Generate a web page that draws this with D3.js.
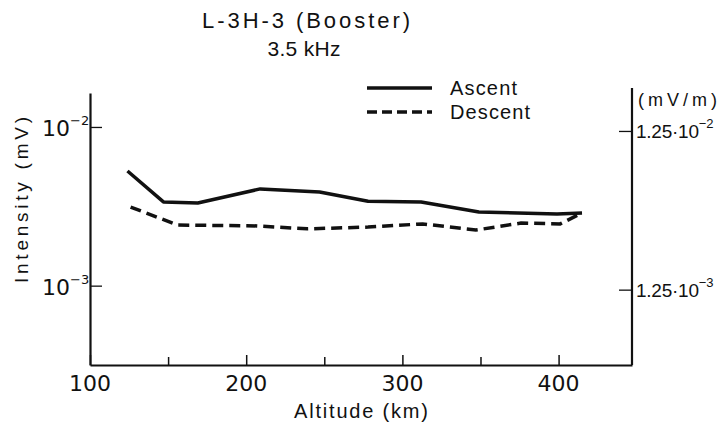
<!DOCTYPE html>
<html>
<head>
<meta charset="utf-8">
<script src="https://cdn.jsdelivr.net/npm/d3@7"></script>
<style>
  html, body { margin: 0; padding: 0; background: #fff; }
  svg { display: block; }
  text { font-family: "Liberation Sans", Arial, sans-serif; fill: #111; }
  text.num { font-family: "DejaVu Sans", sans-serif; }
</style>
</head>
<body>
<svg id="chart" width="726" height="434"></svg>
<script>
// ---- data ----
const ascentAlt = [124, 147, 169, 209, 247, 278, 312, 349, 399, 415];
const ascentMV  = [5.28e-3, 3.37e-3, 3.32e-3, 4.07e-3, 3.89e-3, 3.40e-3, 3.37e-3, 2.91e-3, 2.83e-3, 2.87e-3];
const descentAlt = [126, 156, 207, 239, 278, 313, 347, 376, 401, 415];
const descentMV  = [3.13e-3, 2.41e-3, 2.38e-3, 2.28e-3, 2.34e-3, 2.45e-3, 2.24e-3, 2.48e-3, 2.45e-3, 2.87e-3];
const xTicks = [100, 150, 200, 250, 300, 350, 400];
const xTickLabels = [100, 200, 300, 400];
const leftTicks = [1e-2, 1e-3];
const leftExps = ["−2", "−3"];
const rightTicks = [1.25e-2, 1.25e-3];
const rightExps = ["−2", "−3"];
const titleLines = ["L-3H-3 (Booster)", "3.5 kHz"];
const seriesNames = ["Ascent", "Descent"];

const svg = d3.select("#chart");
const x = d3.scaleLinear().domain([100, 447]).range([90, 632]);
const y = d3.scaleLog().domain([Math.pow(10, -3.5), Math.pow(10, -1.786)]).range([365, 93]);
const k = 1.3246;
const yR = d3.scaleLog().domain(y.domain().map(d => d * k)).range(y.range());

// axes
const gx = svg.append("g").attr("transform", "translate(0,365)")
  .call(d3.axisTop(x).tickValues(xTicks).tickSize(10).tickSizeOuter(0).tickFormat(""));
gx.selectAll(".tick line").attr("stroke", "#111").attr("stroke-width", 1.5)
  .attr("y2", d => d % 100 === 0 ? -10 : -8);
gx.select(".domain").attr("stroke", "#111").attr("stroke-width", 2.2);

const gl = svg.append("g").attr("transform", "translate(90,0)")
  .call(d3.axisRight(y).tickValues(leftTicks).tickSize(12).tickSizeOuter(0).tickFormat(""));
gl.selectAll(".tick line").attr("stroke", "#111").attr("stroke-width", 1.3);
gl.select(".domain").attr("stroke", "#111").attr("stroke-width", 2.2);

const gr = svg.append("g").attr("transform", "translate(632,0)")
  .call(d3.axisLeft(yR).tickValues(rightTicks).tickSize(13).tickSizeOuter(0).tickFormat(""));
gr.selectAll(".tick line").attr("stroke", "#111").attr("stroke-width", 1.3);
gr.select(".domain").attr("stroke", "#111").attr("stroke-width", 2.2);
gr.select(".domain").attr("d", `M0,88V365`);

// x labels
svg.selectAll(".xl").data(xTickLabels).join("text")
  .attr("class", "num")
  .attr("x", d => x(d)).attr("y", 391)
  .attr("text-anchor", "middle").attr("font-size", 22)
  .text(d => d);

svg.append("text").attr("x", 361).attr("y", 418).attr("text-anchor", "middle")
  .attr("font-size", 20).attr("textLength", 134).attr("lengthAdjust", "spacing")
  .text("Altitude (km)");

// left labels
leftTicks.forEach((v, i) => {
  const t = svg.append("text").attr("class", "num").attr("x", 42).attr("y", y(v) + 9).attr("font-size", 22);
  t.append("tspan").text("10");
  t.append("tspan").attr("dy", -11).attr("font-size", 13).text(leftExps[i]);
});
svg.append("text")
  .attr("transform", `translate(28,200) rotate(-90)`)
  .attr("text-anchor", "middle").attr("font-size", 19)
  .attr("textLength", 166).attr("lengthAdjust", "spacing")
  .text("Intensity (mV)");

// right labels
rightTicks.forEach((v, i) => {
  const t = svg.append("text").attr("x", 636).attr("y", yR(v) + 7).attr("font-size", 19);
  t.append("tspan").attr("textLength", 63).attr("lengthAdjust", "spacing").text("1.25·10");
  t.append("tspan").attr("dy", -10).attr("font-size", 13).text(rightExps[i]);
});
svg.append("text").attr("x", 638).attr("y", 106).attr("font-size", 18)
  .attr("textLength", 79).attr("lengthAdjust", "spacing").text("(mV/m)");

// title
svg.append("text").attr("x", 306).attr("y", 28).attr("text-anchor", "middle")
  .attr("font-size", 22).attr("textLength", 208).attr("lengthAdjust", "spacing")
  .text(titleLines[0]);
svg.append("text").attr("x", 304).attr("y", 56).attr("text-anchor", "middle")
  .attr("font-size", 21).attr("textLength", 73).attr("lengthAdjust", "spacing")
  .text(titleLines[1]);

// lines
const line = d3.line().x(d => x(d[0])).y(d => y(d[1]));
svg.append("path").datum(d3.zip(ascentAlt, ascentMV))
  .attr("d", line).attr("fill", "none").attr("stroke", "#111")
  .attr("stroke-width", 3.5).attr("stroke-linejoin", "round");
svg.append("path").datum(d3.zip(descentAlt, descentMV))
  .attr("d", line).attr("fill", "none").attr("stroke", "#111")
  .attr("stroke-width", 3.5).attr("stroke-dasharray", "11,6");

// legend
const leg = [{y: 88, dash: null}, {y: 112, dash: "10,5"}];
leg.forEach((l, i) => {
  svg.append("line").attr("x1", 367).attr("x2", 432).attr("y1", l.y).attr("y2", l.y)
    .attr("stroke", "#111").attr("stroke-width", 3.5)
    .attr("stroke-dasharray", l.dash);
  svg.append("text").attr("x", 450).attr("y", l.y + 7).attr("font-size", 20)
    .attr("textLength", i === 0 ? 67 : 80).attr("lengthAdjust", "spacing")
    .text(seriesNames[i]);
});
</script>
</body>
</html>
